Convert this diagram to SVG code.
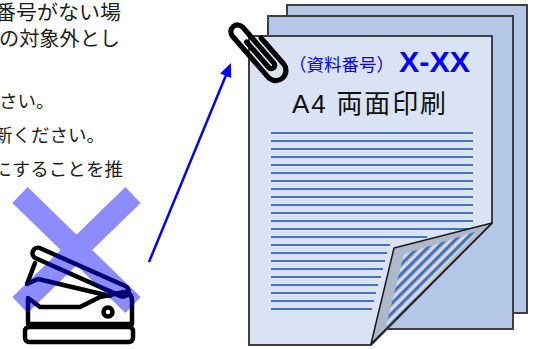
<svg xmlns="http://www.w3.org/2000/svg" width="533" height="349" viewBox="0 0 533 349">
  <style>
    .note { font-family: "Noto Sans CJK JP", "Noto Sans", sans-serif; fill: #1e1e1e; }
    .sheet { stroke: #404040; stroke-width: 2; stroke-linejoin: miter; }
    .back { fill: #B4C7E7; }
    .front { fill: #DAE3F3; }
    .rule { stroke: #4472C4; stroke-width: 2.2; fill: none; }
    .icon { fill: none; stroke: #000; stroke-width: 4.5; stroke-linejoin: round; stroke-linecap: round; }
    .blue { fill: #0000FF; }
  </style>
  <defs>
    <pattern id="backStripes" width="7" height="7" patternUnits="userSpaceOnUse" patternTransform="rotate(45)">
      <rect width="7" height="7" fill="#D9D9D9"/>
      <rect width="3.3" height="7" fill="#4472C4"/>
    </pattern>
    <marker id="arrowHead" viewBox="0 0 14 12" refX="4" refY="6" markerWidth="14" markerHeight="12" markerUnits="userSpaceOnUse" orient="auto">
      <path d="M0,0 L14,6 L0,12 Z" fill="#0000FF"/>
    </marker>
  </defs>

  <!-- notes on the left, partly running off the edge -->
  <g id="notes">
    <text class="note" x="-5" y="19.5" font-size="20" textLength="126" lengthAdjust="spacingAndGlyphs">番号がない場</text>
    <text class="note" x="-1" y="46" font-size="20" textLength="121" lengthAdjust="spacingAndGlyphs">の対象外とし</text>
    <text class="note" x="-1" y="107.5" font-size="18.5">さい。</text>
    <text class="note" x="-6" y="142" font-size="18.5">新ください。</text>
    <text class="note" x="-7" y="175.5" font-size="18.5" textLength="130" lengthAdjust="spacingAndGlyphs">にすることを推</text>
  </g>

  <!-- staple remover, crossed out -->
  <g id="staple-remover">
    <rect class="icon" x="25" y="327" width="108" height="15" rx="4"/>
    <path class="icon" d="M28,298 L40,307 L80,307 L100,297 L124,292 Q132,292 132,302 L132,324 L28,324 Z"/>
    <circle class="icon" cx="108" cy="312" r="4.5" stroke-width="3.5"/>
    <path class="icon" d="M35,263 L27,284 L38,279 L110,296"/>
    <rect class="icon" x="0" y="-5.5" width="104" height="11" rx="5.5" transform="translate(33,251) rotate(24)"/>
    <g opacity="0.45">
      <path d="M20,195 L133,305 M133,195 L20,305" stroke="#0000FF" stroke-width="22" fill="none"/>
    </g>
  </g>

  <!-- stacked A4 sheets -->
  <g id="document-stack">
    <rect class="sheet back" x="287" y="5" width="240" height="308"/>
    <rect class="sheet back" x="268" y="16" width="245" height="313"/>
    <path class="sheet front" d="M249,36 H492 V223 L371,345 H249 Z"/>
    <path class="rule" d="M271,133H473 M271,141H473 M271,149H473 M271,157H473 M271,165H473 M271,173H473 M271,181H473 M271,189H473 M271,197H473 M271,205H473 M271,213H473 M271,221H473 M271,229H471 M271,237H427 M271,245H390 M271,253H387 M271,261H385 M271,269H383 M271,277H381 M271,285H378 M271,293H376 M271,301H374 M271,309H372"/>
    <!-- turned-up corner -->
    <path d="M492,223 L394,248 L371,344 Z" fill="#ADB8CA" stroke="#1a1a1a" stroke-width="1.5" stroke-linejoin="round"/>
    <path d="M404,254 L478,231 L385,330 Z" fill="url(#backStripes)"/>
    <text x="289" y="71" font-family="Noto Sans CJK JP, sans-serif" font-size="17.5" class="blue">（資料番号）</text>
    <text x="399" y="72" font-family="Liberation Sans, Arial, sans-serif" font-size="29" font-weight="bold" textLength="71" lengthAdjust="spacingAndGlyphs" class="blue">X-XX</text>
    <text x="292" y="113" font-family="Liberation Sans, Noto Sans CJK JP, sans-serif" font-size="26" textLength="154" lengthAdjust="spacing" fill="#111">A4 両面印刷</text>
  </g>

  <!-- paper clip -->
  <g id="paper-clip">
    <path d="M-3,-12 V18 A3,3 0 0 0 3,18 V-24 A6,6 0 0 0 -9,-24 V24 A9,9 0 0 0 9,24 V-6" fill="none" stroke="#000" stroke-width="4.6" stroke-linecap="round" transform="translate(258,50) rotate(-41) scale(1.13)"/>
  </g>

  <g id="connectors">
    <line x1="149" y1="262" x2="227.2" y2="72.2" stroke="#0000FF" stroke-width="2.5" marker-end="url(#arrowHead)"/>
  </g>
</svg>
